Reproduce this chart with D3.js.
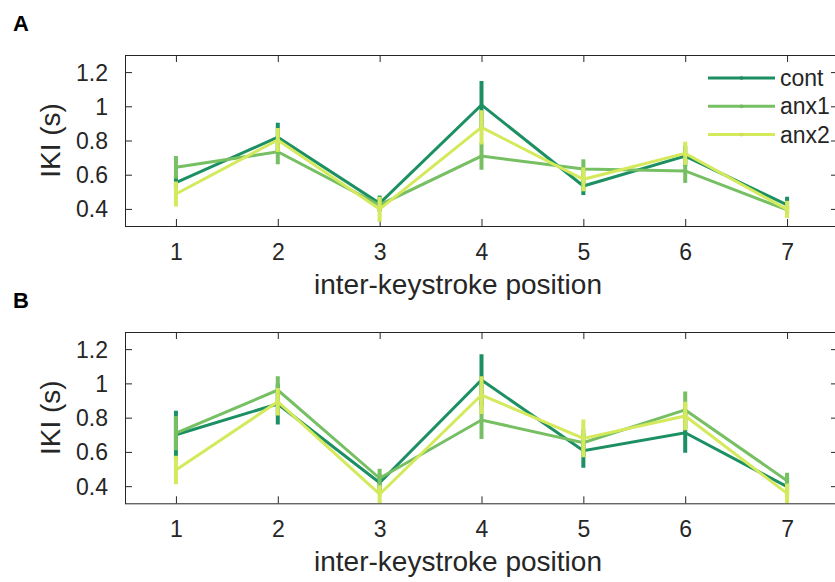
<!DOCTYPE html>
<html>
<head>
<meta charset="utf-8">
<script src="https://cdn.jsdelivr.net/npm/d3@7"></script>
<style>
  html, body { margin: 0; padding: 0; background: #fff; }
  svg { display: block; }
  text { font-family: "Liberation Sans", Arial, Helvetica, sans-serif; fill: #262626; }
</style>
</head>
<body>
<svg id="chart" width="835" height="582"></svg>
<script>
// ---- data ----
const positions = [1, 2, 3, 4, 5, 6, 7];
const xTicks = [1, 2, 3, 4, 5, 6, 7];
const yTicks = [0.4, 0.6, 0.8, 1.0, 1.2];
const yTickLabels = ["0.4", "0.6", "0.8", "1", "1.2"];
const seriesNames = ["cont", "anx1", "anx2"];
const seriesColors = ["#1c9063", "#76bf63", "#d5e95c"];

const A_cont     = [0.553, 0.819, 0.433, 1.008, 0.534, 0.709, 0.423];
const A_cont_err = [0.040, 0.085, 0.045, 0.140, 0.053, 0.060, 0.048];
const A_anx1     = [0.643, 0.734, 0.423, 0.709, 0.633, 0.622, 0.394];
const A_anx1_err = [0.066, 0.073, 0.040, 0.080, 0.057, 0.070, 0.030];
const A_anx2     = [0.487, 0.803, 0.398, 0.877, 0.573, 0.725, 0.397];
const A_anx2_err = [0.073, 0.070, 0.073, 0.100, 0.070, 0.068, 0.050];

const B_cont     = [0.700, 0.880, 0.420, 1.020, 0.607, 0.712, 0.397];
const B_cont_err = [0.140, 0.120, 0.050, 0.150, 0.100, 0.117, 0.050];
const B_anx1     = [0.709, 0.961, 0.446, 0.786, 0.654, 0.845, 0.432];
const B_anx1_err = [0.100, 0.080, 0.055, 0.110, 0.080, 0.107, 0.047];
const B_anx2     = [0.494, 0.893, 0.353, 0.932, 0.679, 0.810, 0.358];
const B_anx2_err = [0.083, 0.080, 0.053, 0.110, 0.110, 0.083, 0.058];

const panels = [
  { label: "A", top: 55, bottom: 226, legend: true,
    series: [[A_cont, A_cont_err], [A_anx1, A_anx1_err], [A_anx2, A_anx2_err]] },
  { label: "B", top: 332, bottom: 503.3, legend: false,
    series: [[B_cont, B_cont_err], [B_anx1, B_anx1_err], [B_anx2, B_anx2_err]] }
];

// ---- drawing ----
const svg = d3.select("#chart");
const left = 125, right = 838;
const axisColor = "#262626";
const tickLen = 7;

panels.forEach((p, pi) => {
  const x = d3.scaleLinear().domain([0.5, 7.5]).range([left, right]);
  const y = d3.scaleLinear().domain([0.3, 1.3]).range([p.bottom, p.top]);
  const g = svg.append("g");

  const clipId = "clip" + pi;
  svg.append("defs").append("clipPath").attr("id", clipId)
    .append("rect").attr("x", left).attr("y", p.top)
    .attr("width", right - left).attr("height", p.bottom - p.top);

  const xb = g.append("g").attr("transform", `translate(0,${p.bottom})`)
    .call(d3.axisBottom(x).tickValues(xTicks).tickSize(-tickLen).tickSizeOuter(0).tickFormat(d3.format("d")));
  const xt = g.append("g").attr("transform", `translate(0,${p.top})`)
    .call(d3.axisTop(x).tickValues(xTicks).tickSize(-tickLen).tickSizeOuter(0).tickFormat(""));
  const yl = g.append("g").attr("transform", `translate(${left},0)`)
    .call(d3.axisLeft(y).tickValues(yTicks).tickSize(-tickLen).tickSizeOuter(0)
      .tickFormat((d, i) => yTickLabels[i]));
  const yr = g.append("g").attr("transform", `translate(${right},0)`)
    .call(d3.axisRight(y).tickValues(yTicks).tickSize(-tickLen).tickSizeOuter(0).tickFormat(""));

  [xb, xt, yl, yr].forEach(a => {
    a.select(".domain").remove();
    a.selectAll(".tick line").attr("stroke", axisColor).attr("stroke-width", 1);
  });
  xb.selectAll(".tick text").attr("y", 0).attr("dy", null)
    .attr("transform", "translate(0,34)")
    .style("font-size", "23px").attr("fill", axisColor)
    .style("font-family", "'Liberation Sans', Arial, sans-serif");
  yl.selectAll(".tick text").attr("x", -17).attr("dy", "0.35em")
    .style("font-size", "23px").attr("fill", axisColor)
    .style("font-family", "'Liberation Sans', Arial, sans-serif");

  g.append("rect").attr("x", left + 0.5).attr("y", p.top + 0.5)
    .attr("width", right - left).attr("height", p.bottom - p.top)
    .attr("fill", "none").attr("stroke", axisColor).attr("stroke-width", 1);

  const plot = g.append("g").attr("clip-path", `url(#${clipId})`);
  const line = d3.line().x(d => x(d.x)).y(d => y(d.v));
  p.series.forEach(([vals, errs], si) => {
    const data = positions.map((px, i) => ({ x: px, v: vals[i], e: errs[i] }));
    const c = seriesColors[si];
    const sg = plot.append("g");
    sg.append("path").datum(data).attr("d", line)
      .attr("fill", "none").attr("stroke", c).attr("stroke-width", 3)
      .attr("stroke-linejoin", "miter");
    sg.selectAll("line.err").data(data).enter().append("line")
      .attr("x1", d => x(d.x)).attr("x2", d => x(d.x))
      .attr("y1", d => y(d.v - d.e)).attr("y2", d => y(d.v + d.e))
      .attr("stroke", c).attr("stroke-width", 4);
  });

  svg.append("text").attr("x", 13).attr("y", p.top - 24)
    .style("font-size", "22px").style("font-weight", "bold").style("fill", "#000")
    .text(p.label);

  svg.append("text").attr("x", 458).attr("y", p.bottom + 68)
    .attr("text-anchor", "middle").style("font-size", "28px")
    .text("inter-keystroke position");
  const cy = (p.top + p.bottom) / 2;
  svg.append("text")
    .attr("transform", `translate(60,${cy}) rotate(-90)`)
    .attr("text-anchor", "middle").style("font-size", "28px")
    .text("IKI (s)");

  if (p.legend) {
    seriesNames.forEach((n, i) => {
      const ly = 78 + i * 28.3;
      svg.append("line").attr("x1", 708).attr("x2", 775).attr("y1", ly).attr("y2", ly)
        .attr("stroke", seriesColors[i]).attr("stroke-width", 3);
      svg.append("circle").attr("cx", 741.5).attr("cy", ly).attr("r", 1.6)
        .attr("fill", seriesColors[i]).attr("stroke", d3.color(seriesColors[i]).darker(0.3)).attr("stroke-width", 0.5);
      svg.append("text").attr("x", 780).attr("y", ly).attr("dy", "0.35em")
        .style("font-size", "23px").text(n);
    });
  }
});
</script>
</body>
</html>
